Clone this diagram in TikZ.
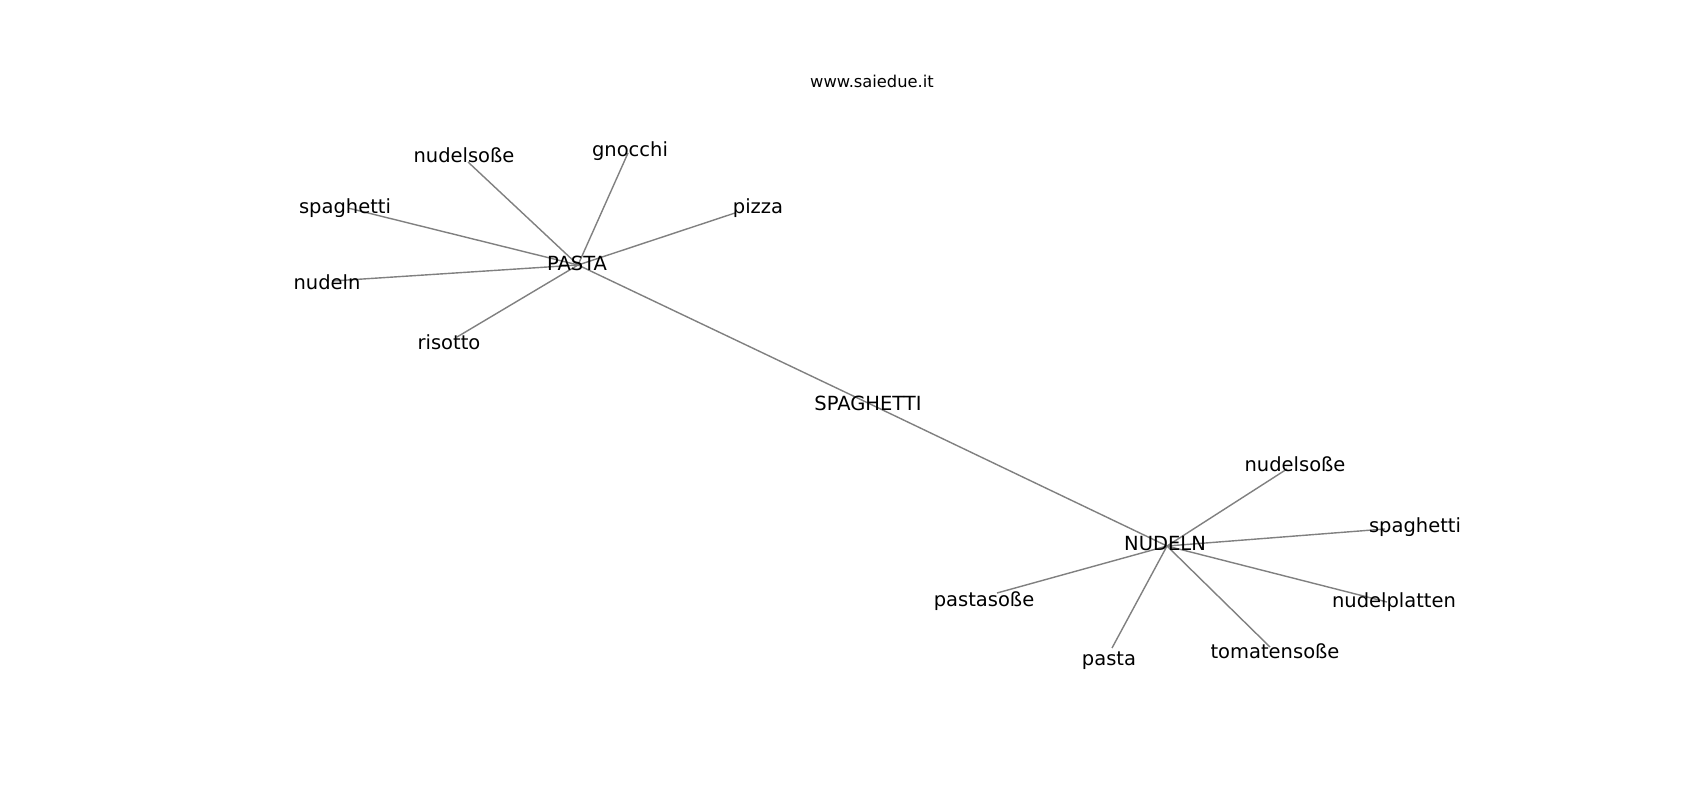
\documentclass[tikz,border=0pt]{standalone}
\usepackage{fontspec}
\setmainfont{DejaVu Sans}
\definecolor{edgegray}{RGB}{128,128,128}
\begin{document}
\begin{tikzpicture}[x=1pt,y=-1pt,
  edge/.style={draw=edgegray,line width=1.4pt},
  lbl/.style={inner sep=0pt,anchor=base,text=black,font=\fontsize{19.5}{23}\selectfont},
  ttl/.style={inner sep=0pt,anchor=base,text=black,font=\fontsize{16.3}{19}\selectfont}]
\fill[white] (0,0) rectangle (1700,800);
\useasboundingbox (0,0) rectangle (1700,800);
% graph vertices
\coordinate (vPASTA) at (578,265);
\coordinate (vNudelsoL) at (468,162);
\coordinate (vGnocchi) at (628,153);
\coordinate (vSpaghettiL) at (348,208);
\coordinate (vNudeln) at (332,281);
\coordinate (vPizza) at (735,213);
\coordinate (vRisotto) at (457,337);
\coordinate (vSPAGHETTI) at (868,403);
\coordinate (vNUDELN) at (1167,546);
\coordinate (vNudelsoR) at (1287,469);
\coordinate (vSpaghettiR) at (1385,529);
\coordinate (vNudelplatten) at (1387,602);
\coordinate (vTomatenso) at (1270,647);
\coordinate (vPastaso) at (997,593);
\coordinate (vPasta) at (1112,648);
% edges
\foreach \t in {vNudelsoL,vGnocchi,vSpaghettiL,vNudeln,vPizza,vRisotto}
  \draw[edge] (vPASTA) -- (\t);
\draw[edge] (vPASTA) -- (vSPAGHETTI);
\draw[edge] (vSPAGHETTI) -- (vNUDELN);
\foreach \t in {vNudelsoR,vSpaghettiR,vNudelplatten,vTomatenso,vPastaso,vPasta}
  \draw[edge] (vNUDELN) -- (\t);
% labels
\node[ttl] (title) at (872,88) {www.saiedue.it};
\node[lbl] (lPASTA) at (577,270) {PASTA};
\node[lbl] (lNudelsoL) at (464,162) {nudelsoße};
\node[lbl] (lGnocchi) at (630,156) {gnocchi};
\node[lbl] (lSpaghettiL) at (345,213) {spaghetti};
\node[lbl] (lNudeln) at (327,289) {nudeln};
\node[lbl] (lPizza) at (758,213) {pizza};
\node[lbl] (lRisotto) at (449,349) {risotto};
\node[lbl] (lSPAGHETTI) at (868,410) {SPAGHETTI};
\node[lbl] (lNUDELN) at (1165,550) {NUDELN};
\node[lbl] (lNudelsoR) at (1295,471) {nudelsoße};
\node[lbl] (lSpaghettiR) at (1415,532) {spaghetti};
\node[lbl] (lNudelplatten) at (1394,607) {nudelplatten};
\node[lbl] (lTomatenso) at (1275,658) {tomatensoße};
\node[lbl] (lPastaso) at (984,606) {pastasoße};
\node[lbl] (lPasta) at (1109,665) {pasta};
\end{tikzpicture}
\end{document}
